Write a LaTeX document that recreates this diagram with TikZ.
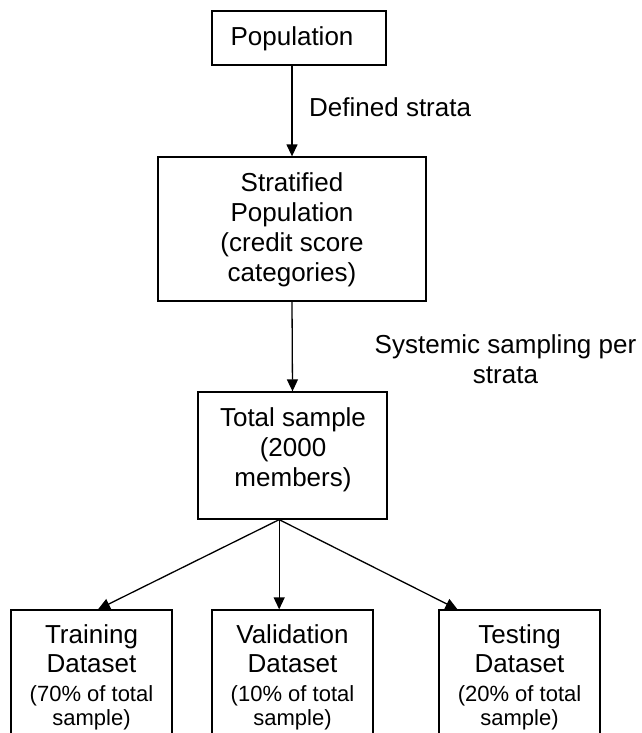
\documentclass[tikz,border=0pt]{standalone}
\usepackage{fontspec}
\setmainfont{Liberation Sans}
\usetikzlibrary{arrows.meta,calc}
\begin{document}
\begin{tikzpicture}[x=1pt,y=-1pt,
  box/.style={draw=black, line width=1.3pt, rectangle, inner sep=0pt},
  txt/.style={align=center, inner sep=0pt, font=\fontsize{26}{30}\selectfont},
  dstxt/.style={align=center, inner sep=0pt, font=\fontsize{26}{29}\selectfont},
  link/.style={line width=1.3pt, -{Triangle[length=12pt,width=11pt]}},
  ]
\useasboundingbox (0,0) rectangle (642,733);
\clip (0,0) rectangle (642,733);

% boxes
\node[box, minimum width=174pt, minimum height=54pt]  (pop)   at (299,38)    {};
\node[box, minimum width=268pt, minimum height=144pt] (strat) at (292,229)   {};
\node[box, minimum width=189pt, minimum height=127pt] (tot)   at (292.5,455.5) {};
\node[box, minimum width=161pt, minimum height=150pt] (train) at (91.5,685)  {};
\node[box, minimum width=161pt, minimum height=150pt] (valid) at (292.5,685) {};
\node[box, minimum width=161pt, minimum height=150pt] (test)  at (519.5,685) {};

% box texts (base anchor = baseline of the last line)
\node[txt, anchor=base] (poptxt)   at (292,46)  {Population};
\node[txt, anchor=base] (strattxt) at (292,281) {Stratified\\Population\\(credit score\\categories)};
\node[txt, anchor=base] (tottxt)   at (293,486) {Total sample\\(2000\\members)};
\node[dstxt, anchor=base] (traintxt) at (91.5,725)
  {Training\\Dataset\\{\fontsize{22}{24}\selectfont (70\% of total}\\[-5pt]{\fontsize{22}{24}\selectfont sample)}};
\node[dstxt, anchor=base] (validtxt) at (292.5,725)
  {Validation\\Dataset\\{\fontsize{22}{24}\selectfont (10\% of total}\\[-5pt]{\fontsize{22}{24}\selectfont sample)}};
\node[dstxt, anchor=base] (testtxt) at (519.5,725)
  {Testing\\Dataset\\{\fontsize{22}{24}\selectfont (20\% of total}\\[-5pt]{\fontsize{22}{24}\selectfont sample)}};

% connector labels
\node[txt, anchor=base west] (lbl1) at (309,117) {Defined strata};
\node[txt, anchor=base] (lbl2) at (505.5,383) {Systemic sampling per\\strata};

% connectors
\coordinate (br)     at ($(tot.south west)!0.43!(tot.south east)$);
\coordinate (trainin) at ($(train.north west)!0.54!(train.north east)$);
\coordinate (testin)  at ($(test.north west)!0.118!(test.north east)$);

\draw[link] (strat.north |- pop.south) -- (strat.north);
\draw[link] (strat.south) -- (tot.north);
\draw[link] (br) -- (trainin);
\draw[link] (br) -- (br |- valid.north);
\draw[link] (br) -- (testin);
\end{tikzpicture}
\end{document}
